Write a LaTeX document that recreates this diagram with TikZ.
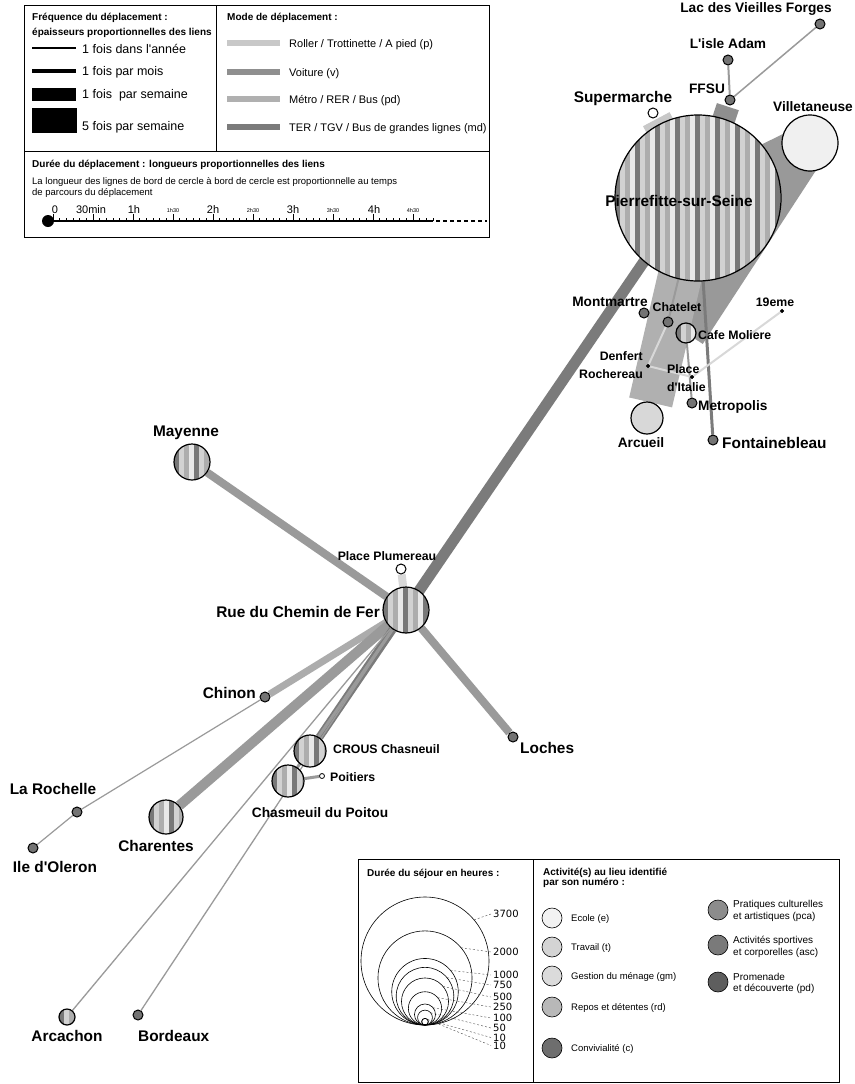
\documentclass[tikz,border=0pt]{standalone}
\usepackage{fontspec}
\setmainfont{Liberation Sans}
\newfontfamily\numfont{DejaVu Sans}
\usetikzlibrary{calc}
\pgfdeclarelayer{bg}
\pgfsetlayers{bg,main}
\definecolor{cP}{HTML}{C8C8C8}
\definecolor{cV}{HTML}{8F8F8F}
\definecolor{cM}{HTML}{B0B0B0}
\definecolor{cT}{HTML}{7B7B7B}
\definecolor{cDot}{HTML}{737373}
\definecolor{sDark}{HTML}{787878}
\definecolor{sLight}{HTML}{D2D2D2}
\definecolor{sWhite}{HTML}{E8E8E8}
\definecolor{sMid}{HTML}{ADADAD}
\definecolor{thinc}{HTML}{9A9A9A}
\definecolor{palec}{HTML}{D8D8D8}
\newcommand{\apos}{\textquotesingle}
\tikzset{
 lblL/.style={font=\bfseries\fontsize{15.4}{16}\selectfont, inner sep=0pt, text height=11pt, text depth=0pt},
 lblM/.style={font=\bfseries\fontsize{13.7}{14}\selectfont, inner sep=0pt, text height=9.8pt, text depth=0pt},
 lblS/.style={font=\bfseries\fontsize{12.3}{13}\selectfont, inner sep=0pt, text height=8.8pt, text depth=0pt},
 spot/.style={circle, draw=black, line width=1pt, fill=cDot, minimum size=10pt, inner sep=0pt},
 tinydot/.style={circle, draw=black, fill=black, minimum size=3.5pt, inner sep=0pt},
 place/.style={circle, draw=black, line width=1.2pt, inner sep=0pt, minimum size=#1},
 striped/.style={circle, draw=black, line width=1.2pt, fill=sMid, inner sep=0pt, minimum size=#1,
   path picture={
     \foreach \k in {0,...,9}{
       \fill[sDark] ($(path picture bounding box.south west)+(\k*20,0)$) rectangle ++(5,-200);
       \fill[sLight] ($(path picture bounding box.south west)+(\k*20+5,0)$) rectangle ++(5,-200);
       \fill[sWhite] ($(path picture bounding box.south west)+(\k*20+15,0)$) rectangle ++(5,-200);
     }}},
 lnk/.style={line width=#1, line cap=butt},
 leg/.style={inner sep=0pt, anchor=base west, font=\fontsize{#1}{#1}\selectfont},
 legb/.style={inner sep=0pt, anchor=base west, font=\bfseries\fontsize{#1}{#1}\selectfont},
 legn/.style={inner sep=0pt, anchor=base west, font=\numfont\fontsize{#1}{#1}\selectfont},
 legc/.style={circle, draw=black, line width=0.6pt, minimum size=20pt, inner sep=0pt, fill=#1}
}
\begin{document}
\begin{tikzpicture}[x=1pt,y=-1pt]
\useasboundingbox (0,0) rectangle (854,1084);
\begin{pgfonlayer}{bg}
\fill[white] (0,0) rectangle (854,1084);
\end{pgfonlayer}

% ---------- places ----------
\node[striped=166pt] (pf) at (698,198) {};
\node[place=56pt, fill=white!94!black] (vil) at (810,143) {};
\node[place=10pt, fill=white, line width=1pt] (sup) at (653,113) {};
\node[spot] (ffsu) at (730,100) {};
\node[spot] (isle) at (728,60) {};
\node[spot] (lac) at (820,24) {};
\node[spot] (mont) at (644,313) {};
\node[spot] (chat) at (668,322) {};
\node[striped=20pt] (cafe) at (686,333) {};
\node[tinydot] (e19) at (782,311) {};
\node[tinydot] (denf) at (648,366) {};
\node[tinydot] (ital) at (692,377) {};
\node[spot] (metro) at (692,403) {};
\node[place=32pt, fill=palec] (arc) at (647,418) {};
\node[spot] (fontb) at (713,440) {};
\node[striped=46pt] (rue) at (406,610) {};
\node[striped=36pt] (may) at (192,462) {};
\node[place=10pt, fill=white, line width=1pt] (plum) at (401,569) {};
\node[spot] (loch) at (513,737) {};
\node[spot] (chin) at (265,697) {};
\node[spot] (roch) at (77,812) {};
\node[spot] (ole) at (33,848) {};
\node[striped=34pt] (char) at (166,817) {};
\node[striped=32pt] (crous) at (310,751) {};
\node[striped=32pt] (chasm) at (288,781) {};
\node[place=5pt, fill=white, line width=0.8pt] (poit) at (322,776) {};
\node[striped=16pt] (arca) at (67,1017) {};
\node[spot] (bord) at (138,1015) {};
\coordinate (pfT) at (686,200);

% ---------- links ----------
\begin{pgfonlayer}{bg}
\draw[lnk=40pt, cV!70!cM] (vil.center) -- (cafe.center);
\draw[lnk=40pt, cV!70!cM] (vil.center) -- (pf.center);
\draw[lnk=44pt, cM] (pf.center) -- ($(arc.center)!16pt!(pf.center)$);
\draw[lnk=30pt, cP] ($(sup.center)!7pt!(pf.center)$) -- (pf.center);
\draw[lnk=23pt, cV] ($(ffsu.center)!7pt!(pf.center)$) -- (pf.center);
\draw[lnk=2pt, thinc] (isle) -- (ffsu);
\draw[lnk=1.5pt, thinc] (lac) -- (ffsu);
\draw[lnk=2pt, thinc] (pf.center) -- (chat);
\draw[lnk=3pt, cT] (pf.center) -- (fontb);
\draw[lnk=2pt, thinc] (cafe) -- (metro);
\draw[lnk=2pt, palec] (denf) -- (chat);
\draw[lnk=2pt, palec] (denf) -- (ital);
\draw[lnk=2pt, palec] (ital) -- (e19);
\draw[lnk=11pt, cT] (rue.center) -- (pfT);
\draw[lnk=8pt, thinc] (may) -- (rue);
\draw[lnk=8pt, palec] (plum) -- (rue);
\draw[lnk=8pt, thinc] (rue) -- (loch);
\draw[lnk=7pt, cM!80!thinc] (chin) -- (rue);
\draw[lnk=1.2pt, thinc] (chin) -- (roch);
\draw[lnk=1.2pt, thinc] (roch) -- (ole);
\draw[lnk=10pt, thinc] (char) -- (rue);
\draw[lnk=8pt, cT] (crous) -- (rue);
\draw[lnk=3pt, thinc] (chasm) -- (rue);
\draw[lnk=3pt, thinc] (chasm) -- (poit);
\draw[lnk=1.3pt, thinc] (arca) -- (rue);
\draw[lnk=1.3pt, thinc] (bord) -- (rue);
\end{pgfonlayer}

% ---------- labels ----------
\node[lblL] (tPf) at (679,201) {Pierrefitte-sur-Seine};
\node[lblM] (tVil) at (813,107) {Villetaneuse};
\node[lblL] (tSup) at (623,97) {Supermarche};
\node[lblM] (tFfsu) at (707,89) {FFSU};
\node[lblM] (tIsle) at (728,44) {L\apos isle Adam};
\node[lblM] (tLac) at (756,8) {Lac des Vieilles Forges};
\node[lblM] (tMont) at (610,302) {Montmartre};
\node[lblS] (tChat) at (677,307) {Chatelet};
\node[lblS, anchor=west] (tCafe) at (698,335) {Cafe Moliere};
\node[lblS] (t19) at (775,302) {19eme};
\node[lblS, anchor=east] (tDenf1) at (643,356) {Denfert};
\node[lblS, anchor=east] (tDenf2) at (643,374) {Rochereau};
\node[lblS, anchor=west] (tItal1) at (667,369) {Place};
\node[lblS, anchor=west] (tItal2) at (667,387) {d\apos Italie};
\node[lblM, anchor=west] (tMetro) at (698,406) {Metropolis};
\node[lblM] (tArc) at (641,443) {Arcueil};
\node[lblL, anchor=west] (tFont) at (722,443) {Fontainebleau};
\node[lblL] (tMay) at (186,431) {Mayenne};
\node[lblS] (tPlum) at (387,556) {Place Plumereau};
\node[lblL, anchor=east] (tRue) at (380,612) {Rue du Chemin de Fer};
\node[lblL, anchor=west] (tLoch) at (520,748) {Loches};
\node[lblL, anchor=east] (tChin) at (256,693) {Chinon};
\node[lblL] (tRoch) at (53,789) {La Rochelle};
\node[lblL] (tOle) at (55,867) {Ile d\apos Oleron};
\node[lblL] (tChar) at (156,846) {Charentes};
\node[lblS, anchor=west] (tCrous) at (333,749) {CROUS Chasneuil};
\node[lblM] (tChasm) at (320,813) {Chasmeuil du Poitou};
\node[lblS, anchor=west] (tPoit) at (330,777) {Poitiers};
\node[lblL] (tArca) at (67,1036) {Arcachon};
\node[lblL, anchor=west] (tBord) at (138,1036) {Bordeaux};

% ---------- legend top ----------
\draw[line width=0.8pt] (24,5) rectangle (489,237);
\draw[line width=0.8pt] (216,5) -- (216,151);
\draw[line width=0.8pt] (24,151) -- (489,151);
\node[legb=10] (f1) at (32,20) {Fréquence du déplacement :};
\node[legb=10] (f2) at (32,35) {épaisseurs proportionnelles des liens};
\draw[line width=1.2pt] (32,48) -- (76,48);
\fill (32,69) rectangle (76,73);
\fill (32,88) rectangle (76,101);
\fill (32,108) rectangle (77,133);
\node[leg=12.5] (f3) at (82,53.8) {1 fois dans l\apos année};
\node[leg=12.5] (f4) at (82,75.5) {1 fois par mois};
\node[leg=12.5] (f5) at (82,98.5) {1 fois\ \ par semaine};
\node[leg=12.5] (f6) at (82,130.5) {5 fois par semaine};
\node[legb=10] (m0) at (227,20) {Mode de déplacement :};
\fill[cP] (227,40) rectangle (280,46);
\fill[cV] (227,69) rectangle (280,75);
\fill[cM] (227,96) rectangle (280,102);
\fill[cT] (227,124) rectangle (280,130);
\node[leg=11] (m1) at (289,47) {Roller / Trottinette / A pied (p)};
\node[leg=11] (m2) at (289,76) {Voiture (v)};
\node[leg=11] (m3) at (289,103) {Métro / RER / Bus (pd)};
\node[leg=11] (m4) at (289,131) {TER / TGV / Bus de grandes lignes (md)};
\node[legb=10] (d1) at (32,167) {Durée du déplacement : longueurs proportionnelles des liens};
\node[leg=9.5] (d2) at (32,184.5) {La longueur des lignes de bord de cercle à bord de cercle est proportionnelle au temps};
\node[leg=9.5] (d3) at (32,195.5) {de parcours du déplacement};
\draw[line width=1.4pt] (48,221) -- (433,221);
\draw[line width=1.2pt, dash pattern=on 4pt off 3pt] (436,221) -- (487,221);
\fill (48,221) circle (6);
\foreach \k in {0,...,57}{ \draw[line width=0.5pt] (53+\k*6.667,221) -- (53+\k*6.667,217.5); }
\foreach \k in {0,...,9}{ \draw[line width=0.6pt] (53+\k*40,221) -- (53+\k*40,214); }
\foreach \xx/\tt in {55/0, 91/30min, 134/1h, 213/2h, 293/3h, 374/4h}{
  \node[inner sep=0pt, anchor=base, font=\fontsize{11}{11}\selectfont] at (\xx,213) {\tt}; }
\foreach \xx/\tt in {173/1h30, 253/2h30, 333/3h30, 413/4h30}{
  \node[inner sep=0pt, anchor=base, font=\fontsize{5.5}{5.5}\selectfont] at (\xx,212) {\tt}; }

% ---------- legend bottom ----------
\draw[line width=0.8pt] (358,859) rectangle (839,1082);
\draw[line width=0.8pt] (533,859) -- (533,1082);
\node[legb=10] (s0) at (367,876.6) {Durée du séjour en heures :};
\foreach \h/\yl in {3700/914, 2000/952, 1000/975, 750/985, 500/997, 250/1007, 100/1018, 50/1028, 10/1037.5, 10/1045.5}{
  \pgfmathsetmacro\rr{64*sqrt(\h/3700)}
  \draw[line width=0.6pt] (425,1025-\rr) circle (\rr);
  \draw[line width=0.4pt, dash pattern=on 2pt off 2pt, black!70] ($(425,1025-\rr)+(-40:\rr)$) -- (491,\yl);
  \node[legn=10] at (493,\yl+3.6) {\h};
}
\node[legb=10] (a0) at (543,875.6) {Activité(s) au lieu identifié};
\node[legb=10] (a1) at (543,885.6) {par son numéro :};
\node[legc=white!95!black] (c1) at (552,918) {};
\node[legc=black!17] (c2) at (552,947) {};
\node[legc=black!14] (c3) at (552,976) {};
\node[legc=black!28] (c4) at (552,1007) {};
\node[legc=black!57] (c5) at (552,1048) {};
\node[leg=9.5] at (571,921.5) {Ecole (e)};
\node[leg=9.5] at (571,950.4) {Travail (t)};
\node[leg=9.5] at (571,979.4) {Gestion du ménage (gm)};
\node[leg=9.5] at (571,1010) {Repos et détentes (rd)};
\node[leg=9.5] at (571,1051.4) {Convivialité (c)};
\node[legc=black!45] (c6) at (718,910) {};
\node[legc=black!52] (c7) at (718,945) {};
\node[legc=black!63] (c8) at (718,982) {};
\node[leg=10] at (733,907.6) {Pratiques culturelles};
\node[leg=10] at (733,919.6) {et artistiques (pca)};
\node[leg=10] at (733,943.6) {Activités sportives};
\node[leg=10] at (733,955.6) {et corporelles (asc)};
\node[leg=10] at (733,980.6) {Promenade};
\node[leg=10] at (733,991.6) {et découverte (pd)};
\end{tikzpicture}
\end{document}
